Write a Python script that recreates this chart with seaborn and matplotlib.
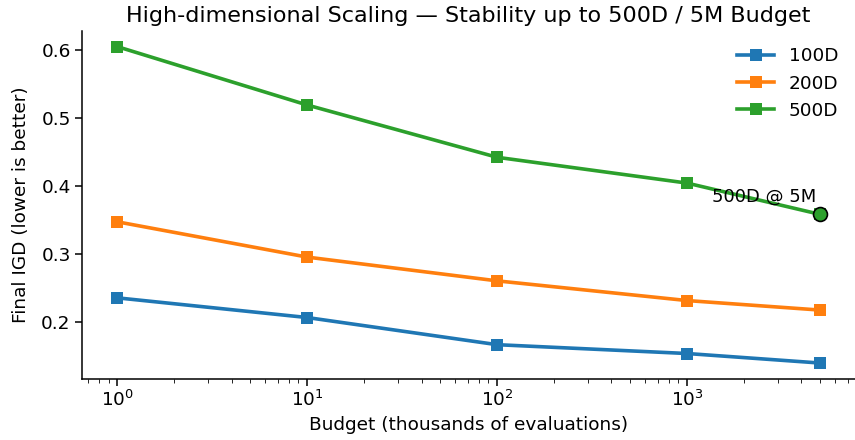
import numpy as np
import pandas as pd
import seaborn as sns
import matplotlib.pyplot as plt

# budgets in thousands of evaluations
budgets = [1, 10, 100, 1000, 5000]
igd_100d = [0.235, 0.206, 0.166, 0.153, 0.139]
igd_200d = [0.347, 0.295, 0.260, 0.231, 0.217]
igd_500d = [0.605, 0.519, 0.442, 0.404, 0.358]
dims = ["100D", "200D", "500D"]

df = pd.DataFrame({
    "budget": budgets * 3,
    "igd": igd_100d + igd_200d + igd_500d,
    "dim": [d for d in dims for _ in budgets],
})

plt.rcParams['font.family'] = ['DejaVu Sans']
plt.rcParams['axes.linewidth'] = 1.1
plt.rcParams['xtick.major.width'] = 1.1
plt.rcParams['ytick.major.width'] = 1.1
plt.rcParams['xtick.major.size'] = 4.7
plt.rcParams['ytick.major.size'] = 4.7
plt.rcParams['xtick.minor.size'] = 2.7

fig, ax = plt.subplots(figsize=(8.55, 4.4), dpi=100)
sns.lineplot(data=df, x="budget", y="igd", hue="dim", marker="s", markersize=8.5,
             markeredgewidth=0, linewidth=2.6, palette="tab10", ax=ax)
ax.set_xscale("log")

# highlight 500D at 5M
ax.plot(budgets[-1], igd_500d[-1], "o", markersize=10, markerfacecolor="#2ca02c",
        markeredgecolor="black", markeredgewidth=1.2, zorder=5)
ax.annotate("500D @ 5M", xy=(budgets[-1], igd_500d[-1]), xytext=(-40, 13),
            textcoords="offset points", ha="center", va="center", fontsize=13)

ax.set_title("High-dimensional Scaling \u2014 Stability up to 500D / 5M Budget", fontsize=16)
ax.set_xlabel("Budget (thousands of evaluations)", fontsize=13.3)
ax.set_ylabel("Final IGD (lower is better)", fontsize=13.3, labelpad=8)
ax.tick_params(labelsize=13.3)
ax.legend(frameon=False, fontsize=13.3, title=None)
sns.despine(ax=ax)

fig.subplots_adjust(left=0.096, right=1.0, bottom=0.139, top=0.93)
fig.savefig("out.png", dpi=100)
